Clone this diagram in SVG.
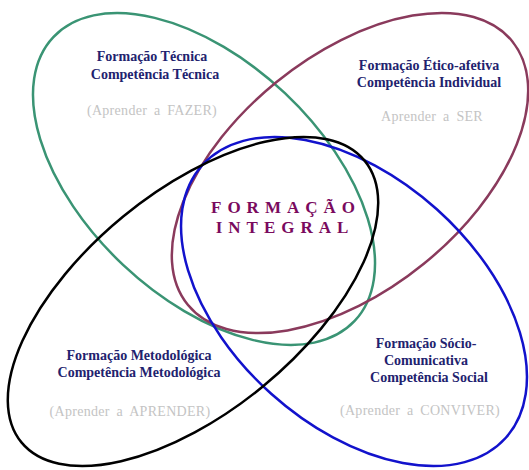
<svg xmlns="http://www.w3.org/2000/svg" width="529" height="470" viewBox="0 0 529 470">
<style>
.ell{fill:none;stroke-width:2.5}
.t{font-family:"Liberation Serif","Times New Roman",serif;font-weight:bold;font-size:14px;fill:#22226e;text-anchor:middle}
.g{font-family:"Liberation Serif","Times New Roman",serif;font-size:14px;fill:#c4c4c4;text-anchor:middle;word-spacing:3px;letter-spacing:0.3px}
.c{font-family:"Liberation Serif","Times New Roman",serif;font-weight:bold;font-size:17px;fill:#7a0a5e;text-anchor:middle;letter-spacing:6px}
</style>
<rect width="529" height="470" fill="#ffffff"/>
<g id="tecnica">
<ellipse class="ell" stroke="#3a9474" cx="204" cy="179" rx="207" ry="118" transform="rotate(43.3 204 179)"/>
<text class="t" x="152" y="61">Formação  Técnica</text>
<text class="t" x="155" y="79">Competência Técnica</text>
<text class="g" x="152" y="115">(Aprender  a  FAZER)</text>
</g>
<g id="etico">
<ellipse class="ell" stroke="#8a3a5c" cx="350" cy="173" rx="209" ry="117" transform="rotate(-39.1 350 173)"/>
<text class="t" x="429" y="70">Formação Ético-afetiva</text>
<text class="t" x="429" y="87">Competência Individual</text>
<text class="g" x="432" y="121">Aprender a  SER</text>
</g>
<g id="social">
<ellipse class="ell" stroke="#1212cc" cx="354" cy="301.5" rx="204" ry="124" transform="rotate(41.9 354 301.5)"/>
<text class="t" x="426" y="348">Formação Sócio-</text>
<text class="t" x="426" y="365">Comunicativa</text>
<text class="t" x="429" y="382">Competência Social</text>
<text class="g" x="420" y="415">(Aprender  a CONVIVER)</text>
</g>
<g id="metodologica">
<ellipse class="ell" stroke="#000000" cx="193" cy="301.5" rx="222" ry="110" transform="rotate(-39.4 193 301.5)"/>
<text class="t" x="139" y="360">Formação Metodológica</text>
<text class="t" x="139" y="377">Competência Metodológica</text>
<text class="g" x="130" y="416">(Aprender  a  APRENDER)</text>
</g>
<g id="integral">
<text class="c" x="286" y="213">FORMAÇÃO</text>
<text class="c" x="285" y="233">INTEGRAL</text>
</g>
<g id="connectors"/>
</svg>
